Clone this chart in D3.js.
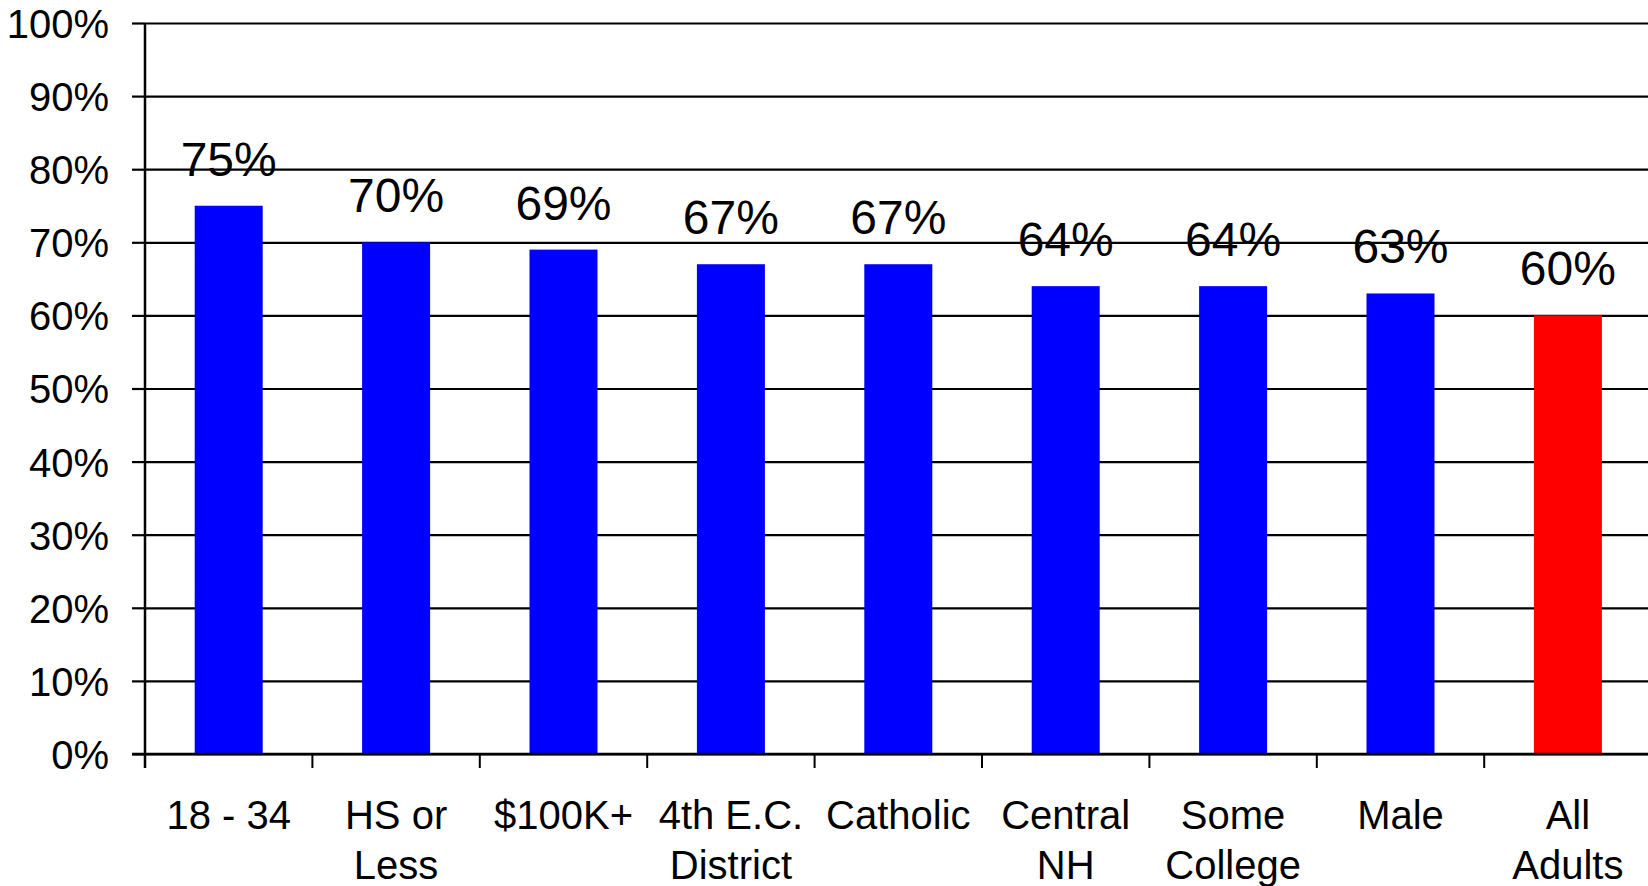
<!DOCTYPE html>
<html>
<head>
<meta charset="utf-8">
<script src="https://cdn.jsdelivr.net/npm/d3@7"></script>
<style>
  html, body { margin: 0; padding: 0; background: #fff; }
  svg { display: block; font-family: "Liberation Sans", Arial, sans-serif; }
</style>
</head>
<body>
<svg id="chart" width="1648" height="886"></svg>
<script>
const categories = [["18 - 34"], ["HS or", "Less"], ["$100K+"], ["4th E.C.", "District"], ["Catholic"], ["Central", "NH"], ["Some", "College"], ["Male"], ["All", "Adults"]];
const values = [75, 70, 69, 67, 67, 64, 64, 63, 60];
const valueLabels = ["75%", "70%", "69%", "67%", "67%", "64%", "64%", "63%", "60%"];
const barColors = ["#0000ff", "#0000ff", "#0000ff", "#0000ff", "#0000ff", "#0000ff", "#0000ff", "#0000ff", "#ff0000"];
const yTicks = [0, 10, 20, 30, 40, 50, 60, 70, 80, 90, 100];
const yTickLabels = ["0%", "10%", "20%", "30%", "40%", "50%", "60%", "70%", "80%", "90%", "100%"];

(function () {
const svg = d3.select("#chart");
const W = 1648;
const plotLeft = 145, plotTop = 23, plotBottom = 754;
const bandW = 167.4;

const keys = categories.map((c, i) => i);
const x = d3.scaleBand().domain(keys).range([plotLeft, plotLeft + bandW * keys.length]).padding(0);
const y = d3.scaleLinear().domain([0, 100]).range([plotBottom, plotTop]);

// gridlines
svg.append("g")
  .attr("transform", `translate(${plotLeft},0)`)
  .call(d3.axisRight(y).tickValues(yTicks).tickSize(W - plotLeft).tickFormat(""))
  .call(g => g.select(".domain").remove())
  .call(g => g.selectAll(".tick line").attr("stroke", "#000").attr("stroke-width", 2.2));

// bars
svg.append("g").selectAll("rect")
  .data(values)
  .join("rect")
  .attr("x", (d, i) => x(i) + x.bandwidth() / 2 - 34)
  .attr("width", 68)
  .attr("y", d => y(d))
  .attr("height", d => y(0) - y(d))
  .attr("fill", (d, i) => barColors[i]);

// y axis
const yAxis = svg.append("g")
  .attr("transform", `translate(${plotLeft},0)`)
  .call(d3.axisLeft(y).tickValues(yTicks).tickSize(13).tickPadding(23)
    .tickFormat((d, i) => yTickLabels[i]));
yAxis.select(".domain").remove();
yAxis.selectAll(".tick line").attr("stroke", "#000").attr("stroke-width", 2.2);
yAxis.selectAll(".tick text").attr("fill", "#000").attr("font-size", 40)
  .attr("font-family", "'Liberation Sans', Arial, sans-serif").attr("dy", "0.36em");
svg.append("line").attr("x1", plotLeft).attr("x2", plotLeft).attr("y1", plotTop).attr("y2", plotBottom + 14)
  .attr("stroke", "#000").attr("stroke-width", 2.5);

// x axis line and ticks
svg.append("line").attr("x1", plotLeft - 13).attr("x2", W).attr("y1", plotBottom).attr("y2", plotBottom)
  .attr("stroke", "#000").attr("stroke-width", 2.5);
svg.append("g").selectAll("line")
  .data(keys.slice(1))
  .join("line")
  .attr("x1", d => x(d)).attr("x2", d => x(d))
  .attr("y1", plotBottom).attr("y2", plotBottom + 14)
  .attr("stroke", "#000").attr("stroke-width", 2);

// x labels
const xl = svg.append("g").selectAll("text")
  .data(categories)
  .join("text")
  .attr("text-anchor", "middle")
  .attr("font-size", 40)
  .attr("fill", "#000");
xl.each(function(lines, i) {
  const t = d3.select(this);
  lines.forEach((ln, j) => {
    t.append("tspan")
      .attr("x", x(i) + x.bandwidth() / 2)
      .attr("y", 829 + j * 50)
      .text(ln);
  });
});

// value labels
svg.append("g").selectAll("text")
  .data(values)
  .join("text")
  .attr("x", (d, i) => x(i) + x.bandwidth() / 2)
  .attr("y", d => y(d) - 30)
  .attr("text-anchor", "middle")
  .attr("font-size", 48)
  .attr("fill", "#000")
  .text((d, i) => valueLabels[i]);
})();
</script>
</body>
</html>
